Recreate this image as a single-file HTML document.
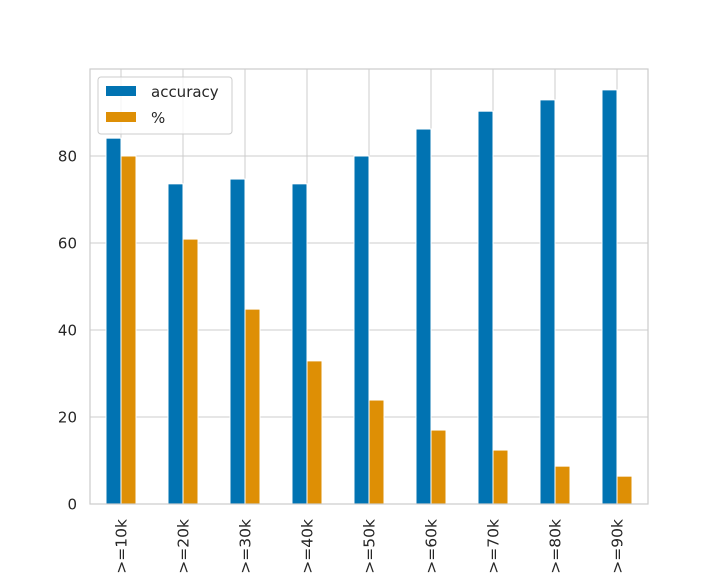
<!DOCTYPE html>
<html><head><meta charset="utf-8"><style>
html,body{margin:0;padding:0;background:#fff;}
svg{display:block;font-family:"DejaVu Sans","Liberation Sans",sans-serif;}
</style></head><body>
<svg id="chart" width="720" height="576" viewBox="0 0 720 576"></svg>
<script>
const categories = [">=10k",">=20k",">=30k",">=40k",">=50k",">=60k",">=70k",">=80k",">=90k"];
const accuracyValues = [84.1, 73.6, 74.7, 73.6, 80.0, 86.2, 90.3, 92.9, 95.2];
const percentValues = [80.0, 60.9, 44.8, 32.9, 23.9, 17.0, 12.4, 8.7, 6.4];
const yTicks = [0, 20, 40, 60, 80];
const seriesNames = ["accuracy", "%"];

const NS = "http://www.w3.org/2000/svg";
const svg = document.getElementById("chart");
const L = 90, R = 648, T = 69, B = 504;
const yMax = 100;
const y = v => B - v / yMax * (B - T);
const step = (R - L) / categories.length;
const xc = i => L + step * (i + 0.5);
const bw = 15;

function mk(tag, attrs, parent) {
  const e = document.createElementNS(NS, tag);
  for (const k in attrs) e.setAttribute(k, attrs[k]);
  (parent || svg).appendChild(e);
  return e;
}

yTicks.forEach(t => {
  const g = mk("line", {x1: L, x2: R, y1: y(t), y2: y(t), stroke: "#cccccc", "stroke-width": 1});
  
  
  const lb = mk("text", {x: 77, y: y(t) + 5.5, "text-anchor": "end", "font-size": 15, fill: "#262626"});
  lb.textContent = t;
  
  
});
categories.forEach((c, i) => {
  const g = mk("line", {x1: xc(i), x2: xc(i), y1: T, y2: B, stroke: "#cccccc", "stroke-width": 1});
  
  
});

const colors = ["#0173b2", "#de8f05"];
categories.forEach((c, i) => {
  const a = mk("rect", {x: xc(i) - bw, y: y(accuracyValues[i]), width: bw, height: B - y(accuracyValues[i]), fill: colors[0], stroke: "#fff", "stroke-width": 1});
  
  
  const p = mk("rect", {x: xc(i), y: y(percentValues[i]), width: bw, height: B - y(percentValues[i]), fill: colors[1], stroke: "#fff", "stroke-width": 1});
  
  
  const lb = mk("text", {transform: `translate(${xc(i) + 5.5},519) rotate(-90)`, "text-anchor": "end", "font-size": 15.5, fill: "#262626"});
  lb.textContent = c;
  
  
});

const fr = mk("rect", {x: L, y: T, width: R - L, height: B - T, fill: "none", stroke: "#cccccc", "stroke-width": 1.2});



const lg = mk("g", {});


mk("rect", {x: 98, y: 77, width: 134, height: 57, rx: 3, fill: "#fff", "fill-opacity": 0.8, stroke: "#cccccc"}, lg);
seriesNames.forEach((n, k) => {
  const r = mk("rect", {x: 106, y: 86 + k * 26, width: 30, height: 10, fill: colors[k]}, lg);
  
  
  const t = mk("text", {x: 151, y: 97 + k * 26, "font-size": 15, fill: "#262626"}, lg);
  t.textContent = n;
  
  
});
</script>
</body></html>
